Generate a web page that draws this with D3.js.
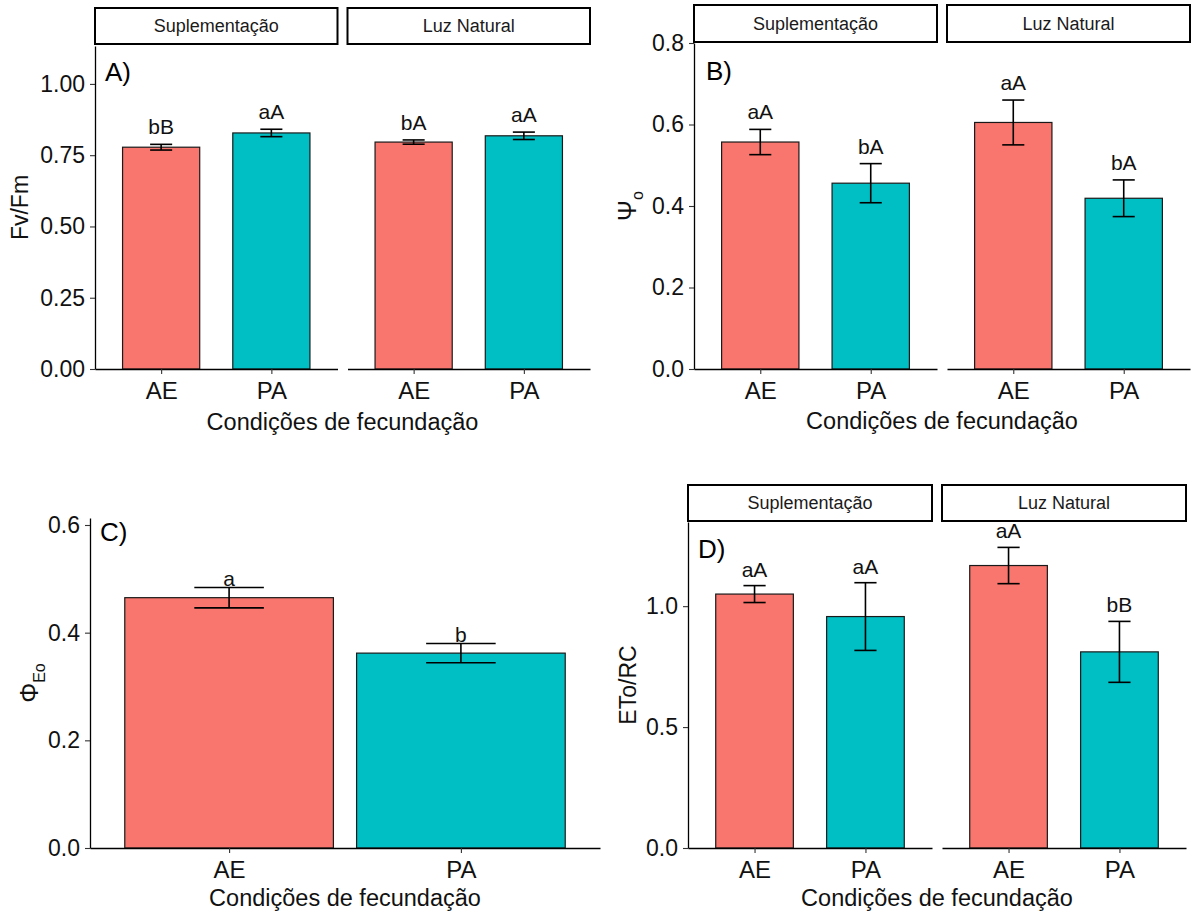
<!DOCTYPE html>
<html>
<head>
<meta charset="utf-8">
<script src="https://cdn.jsdelivr.net/npm/d3@7"></script>
<style>
  body { margin: 0; background: #fff; }
  text { font-family: "Liberation Sans", Arial, sans-serif; }
</style>
</head>
<body>
<svg id="chart" width="1204" height="914"></svg>
<script>
// categories
const treatments = ["Suplementação", "Luz Natural"];
const conditions = ["AE", "PA"];

// A) Fv/Fm  (order: Sup AE, Sup PA, Luz AE, Luz PA)
const fvfmMean = [0.778, 0.828, 0.796, 0.818];
const fvfmErr = [0.010, 0.013, 0.0075, 0.013];
const fvfmLetters = ["bB", "aA", "bA", "aA"];
const fvfmTicks = [0, 0.25, 0.5, 0.75, 1.0];

// B) Psi_o
const psiMean = [0.557, 0.456, 0.605, 0.419];
const psiErr = [0.031, 0.048, 0.055, 0.045];
const psiLetters = ["aA", "bA", "aA", "bA"];
const psiTicks = [0, 0.2, 0.4, 0.6, 0.8];

// C) Phi_Eo (no facets)
const phiMean = [0.465, 0.362];
const phiErr = [0.019, 0.018];
const phiLetters = ["a", "b"];
const phiTicks = [0, 0.2, 0.4, 0.6];

// D) ETo/RC
const etoMean = [1.05, 0.957, 1.168, 0.811];
const etoErr = [0.035, 0.14, 0.075, 0.126];
const etoLetters = ["aA", "aA", "aA", "bB"];
const etoTicks = [0, 0.5, 1.0];

const fills = {AE: "#F8766D", PA: "#00BFC4"};
const svg = d3.select("#chart");

function drawPanel(p) {
  const g = svg.append("g").attr("transform", "translate(" + p.left + "," + p.top + ")");
  const nF = p.facets.length;
  const gap = 10;
  const fw = (p.width - gap * (nF - 1)) / nF;
  const y = d3.scaleLinear().domain([0, p.ymax]).range([p.height, 0]);

  p.facets.forEach((fname, fi) => {
    const fx = fi * (fw + gap);
    const fg = g.append("g").attr("transform", "translate(" + fx + ",0)");
    const x = d3.scalePoint().domain(conditions).range([0, fw]).padding(0.6);
    const step = x.step();
    const rows = conditions.map((c, ci) => {
      const k = fi * conditions.length + ci;
      return {cond: c, mean: p.mean[k], err: p.err[k], lab: p.letters[k]};
    });

    // strip
    if (fname) {
      fg.append("rect")
        .attr("x", 0).attr("y", -p.stripGap - p.stripH)
        .attr("width", fw).attr("height", p.stripH)
        .attr("fill", "#fff").attr("stroke", "#000").attr("stroke-width", 2);
      fg.append("text")
        .attr("x", fw / 2).attr("y", -p.stripGap - p.stripH / 2)
        .attr("dy", "0.35em").attr("text-anchor", "middle")
        .attr("font-size", 18).attr("fill", "#1a1a1a")
        .text(fname);
    }

    fg.selectAll(".bar").data(rows).enter().append("rect")
      .attr("class", "bar")
      .attr("x", d => x(d.cond) - p.barW * step / 2)
      .attr("width", p.barW * step)
      .attr("y", d => y(d.mean))
      .attr("height", d => y(0) - y(d.mean))
      .attr("fill", d => fills[d.cond])
      .attr("stroke", "#1a1a1a").attr("stroke-width", 1.2);

    const eb = fg.selectAll(".eb").data(rows).enter().append("g").attr("class", "eb")
      .attr("stroke", "#000").attr("stroke-width", 1.6);
    const ew = p.errW * step / 2;
    eb.append("line")
      .attr("x1", d => x(d.cond)).attr("x2", d => x(d.cond))
      .attr("y1", d => y(d.mean + d.err)).attr("y2", d => y(d.mean - d.err));
    eb.append("line")
      .attr("x1", d => x(d.cond) - ew).attr("x2", d => x(d.cond) + ew)
      .attr("y1", d => y(d.mean + d.err)).attr("y2", d => y(d.mean + d.err));
    eb.append("line")
      .attr("x1", d => x(d.cond) - ew).attr("x2", d => x(d.cond) + ew)
      .attr("y1", d => y(d.mean - d.err)).attr("y2", d => y(d.mean - d.err));

    fg.selectAll(".sig").data(rows).enter().append("text")
      .attr("class", "sig")
      .attr("x", d => x(d.cond))
      .attr("y", d => y(d.mean + d.err) - p.labOff)
      .attr("text-anchor", "middle")
      .attr("font-size", 21).attr("fill", "#111")
      .text(d => d.lab);

    const xa = fg.append("g").attr("transform", "translate(0," + p.height + ")")
      .call(d3.axisBottom(x).tickSize(5).tickSizeOuter(0).tickPadding(8));
    xa.select(".domain").attr("stroke", "#000").attr("stroke-width", 1.3);
    xa.selectAll(".tick line").attr("stroke", "#333").attr("stroke-width", 1.1);
    xa.selectAll(".tick text").attr("font-size", 24).attr("fill", "#111")
      .attr("font-family", "'Liberation Sans', Arial, sans-serif");

    if (fi === 0) {
      const ya = fg.append("g")
        .call(d3.axisLeft(y).tickValues(p.ticks).tickFormat(d3.format(p.fmt)).tickSize(5).tickSizeOuter(0).tickPadding(5));
      ya.select(".domain").attr("stroke", "#000").attr("stroke-width", 1.3);
      ya.selectAll(".tick line").attr("stroke", "#333").attr("stroke-width", 1.1);
      ya.selectAll(".tick text").attr("font-size", 23).attr("fill", "#111")
        .attr("font-family", "'Liberation Sans', Arial, sans-serif");
    }
  });

  // panel letter
  g.append("text").attr("x", p.tagX).attr("y", p.tagY)
    .attr("font-size", 26).attr("fill", "#000").text(p.tag);

  // x title
  g.append("text")
    .attr("x", p.width / 2).attr("y", p.height + p.xtY)
    .attr("dy", "0.35em").attr("text-anchor", "middle")
    .attr("font-size", 23.5).attr("fill", "#111")
    .text("Condições de fecundação");

  // y title
  const yt = g.append("text")
    .attr("transform", "translate(" + p.ytX + "," + (p.height / 2) + ") rotate(-90)")
    .attr("text-anchor", "middle").attr("dy", "0.35em")
    .attr("font-size", 23).attr("fill", "#111");
  p.ytitle(yt);
}

drawPanel({
  left: 95, top: 46, width: 495, height: 323, ymax: 1.133,
  facets: treatments, stripH: 36, stripGap: 2,
  mean: fvfmMean, err: fvfmErr, letters: fvfmLetters, ticks: fvfmTicks, fmt: ".2f",
  barW: 0.7, errW: 0.2, labOff: 10,
  tag: "A)", tagX: 10, tagY: 35, xtY: 53, ytX: -75,
  ytitle: t => t.text("Fv/Fm")
});

drawPanel({
  left: 694, top: 43, width: 496, height: 326, ymax: 0.8,
  facets: treatments, stripH: 37, stripGap: 1,
  mean: psiMean, err: psiErr, letters: psiLetters, ticks: psiTicks, fmt: ".1f",
  barW: 0.7, errW: 0.2, labOff: 10,
  tag: "B)", tagX: 12, tagY: 37, xtY: 52, ytX: -66,
  ytitle: t => {
    t.append("tspan").attr("font-size", 25).text("\u03A8");
    t.append("tspan").attr("dy", 7).attr("font-size", 16).text("o");
  }
});

drawPanel({
  left: 90, top: 518, width: 510, height: 330, ymax: 0.613,
  facets: [null], stripH: 0, stripGap: 0,
  mean: phiMean, err: phiErr, letters: phiLetters, ticks: phiTicks, fmt: ".1f",
  barW: 0.9, errW: 0.3, labOff: 1,
  tag: "C)", tagX: 10, tagY: 23, xtY: 50, ytX: -60,
  ytitle: t => {
    t.append("tspan").attr("font-size", 25).text("\u03A6");
    t.append("tspan").attr("dy", 7).attr("font-size", 16).text("Eo");
  }
});

drawPanel({
  left: 688, top: 522, width: 498, height: 326, ymax: 1.348,
  facets: treatments, stripH: 36, stripGap: 1,
  mean: etoMean, err: etoErr, letters: etoLetters, ticks: etoTicks, fmt: ".1f",
  barW: 0.7, errW: 0.2, labOff: 9,
  tag: "D)", tagX: 10, tagY: 36, xtY: 50, ytX: -60,
  ytitle: t => t.text("ETo/RC")
});
</script>
</body>
</html>
